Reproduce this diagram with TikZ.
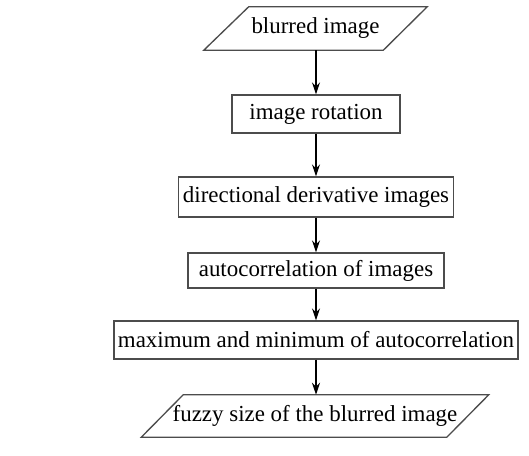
\documentclass[tikz,border=0pt]{standalone}
\usepackage{fontspec}
\setmainfont{Liberation Serif}
\usetikzlibrary{arrows.meta,calc}
\begin{document}
\begin{tikzpicture}[x=0.75pt,y=-0.75pt,
  txt/.style={inner sep=0pt,font=\fontsize{17.2}{20}\selectfont},
  box/.style={txt,draw=black!70,line width=1pt},
  para/.style={draw=black!70,line width=1pt},
  arr/.style={draw=black,line width=1pt,-{Stealth[length=9pt,width=6pt,inset=3pt]}}]
\useasboundingbox (0,0) rectangle (529,455);

\node[txt,minimum width=167.25pt,minimum height=32.25pt] (p1) at (315.5,28.5) {blurred image};
\draw[para] ($(p1.north west)+(45,0)$) -- (p1.north east) -- ($(p1.south east)+(-44,0)$) -- (p1.south west) -- cycle;

\node[box,minimum width=126pt,minimum height=28.5pt] (b1) at (316,114) {image rotation};
\node[box,minimum width=206.25pt,minimum height=30pt] (b2) at (316,197) {directional derivative images};
\node[box,minimum width=192pt,minimum height=26.25pt] (b3) at (316,270.5) {autocorrelation of images};
\node[box,minimum width=303pt,minimum height=28.5pt] (b4) at (316,340) {maximum and minimum of autocorrelation};

\node[txt,minimum width=260.25pt,minimum height=31.5pt] (p2) at (315,416) {fuzzy size of the blurred image};
\draw[para] ($(p2.north west)+(42,0)$) -- (p2.north east) -- ($(p2.south east)+(-42,0)$) -- (p2.south west) -- cycle;

\draw[arr] (b1.north |- p1.south) -- (b1.north);
\draw[arr] (b1.south) -- (b2.north);
\draw[arr] (b2.south) -- (b3.north);
\draw[arr] (b3.south) -- (b4.north);
\draw[arr] (b4.south) -- (b4.south |- p2.north);
\end{tikzpicture}
\end{document}
